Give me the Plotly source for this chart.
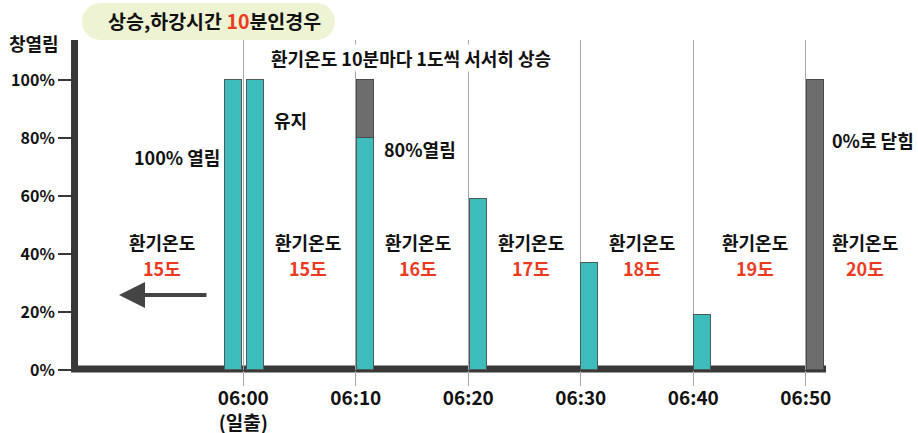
import plotly.graph_objects as go

# ---------------- data ----------------
tick_minutes = [0, 10, 20, 30, 40, 50]
tick_labels = ["06:00<br>(일출)", "06:10", "06:20", "06:30", "06:40", "06:50"]
bar_minutes = [-0.85, 1.05, 10.9, 20.9, 30.8, 40.8, 50.85]   # minutes after 06:00
open_pct = [100, 100, 80, 59, 37, 19, 0]     # window open (teal)
closed_pct = [0, 0, 20, 0, 0, 0, 100]        # closed part (gray)
y_ticks = [0, 20, 40, 60, 80, 100]
y_tick_labels = ["0%", "20%", "40%", "60%", "80%", "100%"]
temps = ["15도", "15도", "16도", "17도", "18도", "19도", "20도"]
temp_label_minutes = [-7.2, 5.75, 15.55, 25.55, 35.45, 45.45, 55.3]

# ---------------- layout geometry ----------------
W, H = 918, 433
L, R, T, B = 78, 900, 40, 370
PX_PER_MIN = 11.25
X0_PX = 243.3
PX_PER_PCT = 2.9

x_range = [(L - X0_PX) / PX_PER_MIN, (R - X0_PX) / PX_PER_MIN]
y_range = [0, (B - T) / PX_PER_PCT]


def pxx(x):
    return (x - L) / (R - L)


def pxy(y):
    return (B - y) / (B - T)


FONT = "Noto Sans CJK KR, Noto Sans, sans-serif"
TEAL = "#3dbcbc"
GRAY = "#6d6d6d"
DARK = "#383838"
RED = "#ec3a1f"
FS = 18

fig = go.Figure()
fig.add_trace(go.Bar(
    x=bar_minutes, y=[v if v else None for v in open_pct], width=1.5,
    marker=dict(color=TEAL, line=dict(color="#4f5a5a", width=1)),
    hoverinfo="skip", showlegend=False))
fig.add_trace(go.Bar(
    x=bar_minutes, y=[v if v else None for v in closed_pct], width=1.5,
    marker=dict(color=GRAY, line=dict(color="#4a4a4a", width=1)),
    hoverinfo="skip", showlegend=False))

shapes = []
# horizontal axis line
shapes.append(dict(type="line", xref="paper", yref="paper",
                   x0=pxx(71), x1=pxx(826), y0=pxy(369), y1=pxy(369),
                   line=dict(color=DARK, width=7), layer="below"))

# title pill (stadium shape)
x1p, x2p, y1p, y2p = 82, 335, 3, 40
r = (y2p - y1p) / 2
k = 0.5523 * r


def P(x, y):
    return f"{pxx(x):.5f},{pxy(y):.5f}"


path = (f"M {P(x1p + r, y1p)} L {P(x2p - r, y1p)} "
        f"C {P(x2p - r + k, y1p)} {P(x2p, y1p + r - k)} {P(x2p, y1p + r)} "
        f"C {P(x2p, y1p + r + k)} {P(x2p - r + k, y2p)} {P(x2p - r, y2p)} "
        f"L {P(x1p + r, y2p)} "
        f"C {P(x1p + r - k, y2p)} {P(x1p, y1p + r + k)} {P(x1p, y1p + r)} "
        f"C {P(x1p, y1p + r - k)} {P(x1p + r - k, y1p)} {P(x1p + r, y1p)} Z")
shapes.append(dict(type="path", xref="paper", yref="paper", path=path,
                   fillcolor="#eef3d3", line=dict(width=0), layer="above"))

annotations = []


def txt(text, x, y, size=FS, color="#111111", bg=None, xanchor="center"):
    a = dict(text=text, x=pxx(x), y=pxy(y), xref="paper", yref="paper",
             showarrow=False, xanchor=xanchor, yanchor="middle",
             font=dict(family=FONT, size=size, color=color))
    if bg:
        a["bgcolor"] = bg
        a["borderpad"] = 0
    annotations.append(a)


txt(f"<b>상승,하강시간 <span style='color:{RED}'>10</span>분인경우</b>", 214, 21, size=19.5)
txt("<b>창열림</b>", 34, 43, size=18)
txt("<b>환기온도 10분마다 1도씩 서서히 상승</b>", 411, 58, bg="white")
txt("<b>유지</b>", 290, 120)
txt("<b>100% 열림</b>", 177, 157)
txt("<b>80%열림</b>", 420, 149)
txt("<b>0%로 닫힘</b>", 873, 140)

for m, t in zip(temp_label_minutes, temps):
    annotations.append(dict(text="<b>환기온도</b>", x=m, y=(B - 242) / PX_PER_PCT,
                            xref="x", yref="y", showarrow=False,
                            xanchor="center", yanchor="middle",
                            font=dict(family=FONT, size=FS, color="#111111")))
    annotations.append(dict(text=f"<b>{t}</b>", x=m, y=(B - 268) / PX_PER_PCT,
                            xref="x", yref="y", showarrow=False,
                            xanchor="center", yanchor="middle",
                            font=dict(family=FONT, size=FS, color=RED)))

# arrow pointing left
annotations.append(dict(text="", x=pxx(119), y=pxy(295), xref="paper", yref="paper",
                        ax=89, ay=0, showarrow=True, arrowhead=2, arrowsize=1.3,
                        arrowwidth=4, arrowcolor="#444444"))

fig.update_layout(
    width=W, height=H,
    margin=dict(l=L, r=W - R, t=T, b=H - B),
    paper_bgcolor="white", plot_bgcolor="white",
    barmode="stack", bargap=0,
    font=dict(family=FONT, color="#111111"),
    shapes=shapes, annotations=annotations,
    xaxis=dict(range=x_range, tickvals=tick_minutes, ticktext=[f"<b>{t}</b>" for t in tick_labels],
               showgrid=True, gridcolor="#a5a5a5", gridwidth=1, automargin=False,
               ticks="outside", ticklen=15, tickcolor="#a5a5a5", tickwidth=1,
               ticklabelstandoff=-4,
               showline=False, zeroline=False, fixedrange=True,
               tickfont=dict(family=FONT, size=19, color="#111111")),
    yaxis=dict(range=y_range, tickvals=y_ticks, ticktext=[f"<b>{t}</b>" for t in y_tick_labels],
               showgrid=False, zeroline=False, showline=True, linewidth=7, linecolor=DARK,
               ticks="outside", ticklen=13, tickwidth=2, tickcolor=DARK, automargin=False,
               fixedrange=True,
               tickfont=dict(family=FONT, size=16, color="#111111")),
)

fig.write_html("out.html")
